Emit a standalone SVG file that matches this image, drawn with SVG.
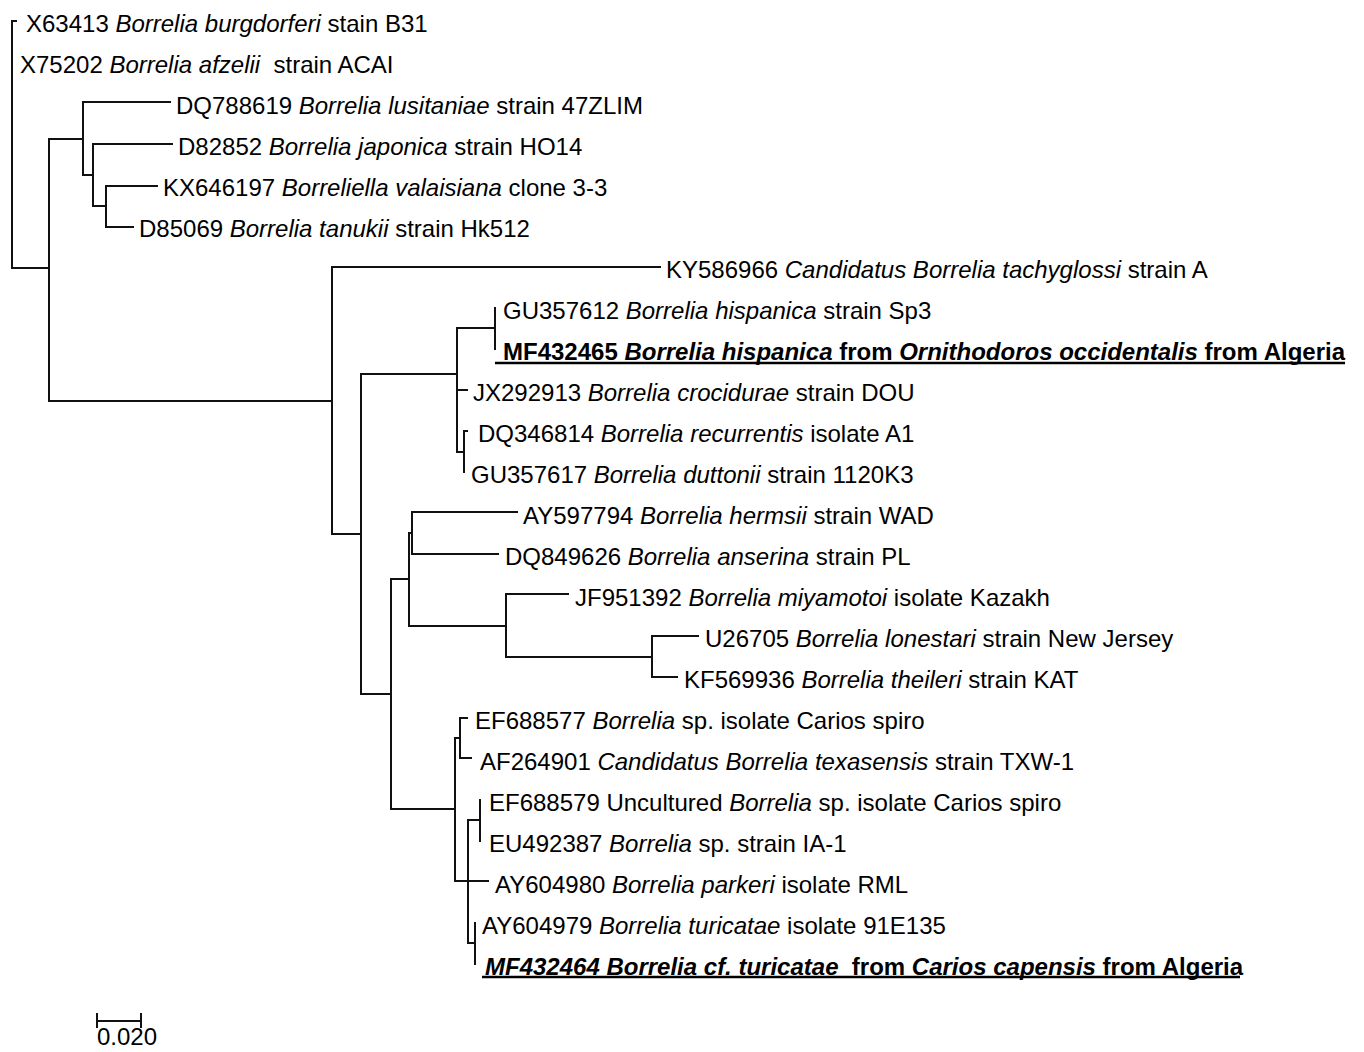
<svg xmlns="http://www.w3.org/2000/svg" width="1364" height="1052" viewBox="0 0 1364 1052">
<style>
text{font-family:"Liberation Sans",Arial,sans-serif;font-size:24px;fill:#000;white-space:pre}
.i{font-style:italic}
.b{font-weight:bold}
.br{fill:none;stroke:#111;stroke-width:2;stroke-linecap:square}
.ul{stroke:#000;stroke-width:2.5}
</style>
<rect width="1364" height="1052" fill="#fff"/>
<g id="connectors" class="br">
<path d="M12 21V268M12 21H16M12 268H49"/>
<path d="M49 139V401M49 139H83M49 401H332"/>
<path d="M83 102V175M83 102H170M83 175H93"/>
<path d="M93 144V206M93 144H172M93 206H106"/>
<path d="M106 186V227M106 186H157M106 227H133"/>
<path d="M332 267V534M332 267H660M332 534H361"/>
<path d="M361 374V694M361 374H457M361 694H391"/>
<path d="M457 328V452M457 328H495M457 390H467M457 452H464"/>
<path d="M495 308V349"/>
<path d="M464 431V472M464 431H467"/>
<path d="M391 579V809M391 579H409M391 809H455"/>
<path d="M409 533V626M409 533H412M409 626H506"/>
<path d="M412 512V554M412 512H517M412 554H498"/>
<path d="M506 594V657M506 594H568M506 657H652"/>
<path d="M652 636V677M652 636H698M652 677H677"/>
<path d="M455 738V881M455 738H460M455 881H488"/>
<path d="M460 718V758M460 718H467M460 758H471"/>
<path d="M468 820V943M468 820H480M468 943H475"/>
<path d="M480 800V841"/>
<path d="M475 923V964"/>
</g>
<g id="leaf-X63413"><text x="26" y="31.5">X63413 <tspan class="i">Borrelia burgdorferi</tspan> stain B31</text></g>
<g id="leaf-X75202"><text x="20" y="72.5">X75202 <tspan class="i">Borrelia afzelii</tspan>  strain ACAI</text></g>
<g id="leaf-DQ788619"><text x="176" y="113.5">DQ788619 <tspan class="i">Borrelia lusitaniae</tspan> strain 47ZLIM</text></g>
<g id="leaf-D82852"><text x="178" y="154.5">D82852 <tspan class="i">Borrelia japonica</tspan> strain HO14</text></g>
<g id="leaf-KX646197"><text x="163" y="195.5">KX646197 <tspan class="i">Borreliella valaisiana</tspan> clone 3-3</text></g>
<g id="leaf-D85069"><text x="139" y="236.5">D85069 <tspan class="i">Borrelia tanukii</tspan> strain Hk512</text></g>
<g id="leaf-KY586966"><text x="666" y="277.5">KY586966 <tspan class="i">Candidatus Borrelia tachyglossi</tspan> strain A</text></g>
<g id="leaf-GU357612"><text x="503" y="318.5">GU357612 <tspan class="i">Borrelia hispanica</tspan> strain Sp3</text></g>
<g id="leaf-MF432465"><text class="b" x="503" y="359.5">MF432465 <tspan class="i">Borrelia hispanica</tspan> from <tspan class="i">Ornithodoros occidentalis</tspan> from Algeria</text><line class="ul" x1="495" y1="363" x2="1345" y2="363"/></g>
<g id="leaf-JX292913"><text x="473" y="400.5">JX292913 <tspan class="i">Borrelia crocidurae</tspan> strain DOU</text></g>
<g id="leaf-DQ346814"><text x="478" y="441.5">DQ346814 <tspan class="i">Borrelia recurrentis</tspan> isolate A1</text></g>
<g id="leaf-GU357617"><text x="471" y="482.5">GU357617 <tspan class="i">Borrelia duttonii</tspan> strain 1120K3</text></g>
<g id="leaf-AY597794"><text x="523" y="523.5">AY597794 <tspan class="i">Borrelia hermsii</tspan> strain WAD</text></g>
<g id="leaf-DQ849626"><text x="505" y="564.5">DQ849626 <tspan class="i">Borrelia anserina</tspan> strain PL</text></g>
<g id="leaf-JF951392"><text x="575" y="605.5">JF951392 <tspan class="i">Borrelia miyamotoi</tspan> isolate Kazakh</text></g>
<g id="leaf-U26705"><text x="705" y="646.5">U26705 <tspan class="i">Borrelia lonestari</tspan> strain New Jersey</text></g>
<g id="leaf-KF569936"><text x="684" y="687.5">KF569936 <tspan class="i">Borrelia theileri</tspan> strain KAT</text></g>
<g id="leaf-EF688577"><text x="475" y="728.5">EF688577 <tspan class="i">Borrelia</tspan> sp. isolate Carios spiro</text></g>
<g id="leaf-AF264901"><text x="480" y="769.5">AF264901 <tspan class="i">Candidatus Borrelia texasensis</tspan> strain TXW-1</text></g>
<g id="leaf-EF688579"><text x="489" y="810.5">EF688579 Uncultured <tspan class="i">Borrelia</tspan> sp. isolate Carios spiro</text></g>
<g id="leaf-EU492387"><text x="489" y="851.5">EU492387 <tspan class="i">Borrelia</tspan> sp. strain IA-1</text></g>
<g id="leaf-AY604980"><text x="495" y="892.5">AY604980 <tspan class="i">Borrelia parkeri</tspan> isolate RML</text></g>
<g id="leaf-AY604979"><text x="482" y="933.5">AY604979 <tspan class="i">Borrelia turicatae</tspan> isolate 91E135</text></g>
<g id="leaf-MF432464"><text class="b" x="485" y="974.5"><tspan class="i">MF432464 Borrelia cf. turicatae</tspan>  from <tspan class="i">Carios capensis</tspan> from Algeria</text><line class="ul" x1="482" y1="977" x2="1240" y2="977"/></g>
<g id="scale-bar"><path class="br" d="M97 1021H141M97 1014V1027M141 1014V1027"/><text x="97" y="1045">0.020</text></g>
</svg>
